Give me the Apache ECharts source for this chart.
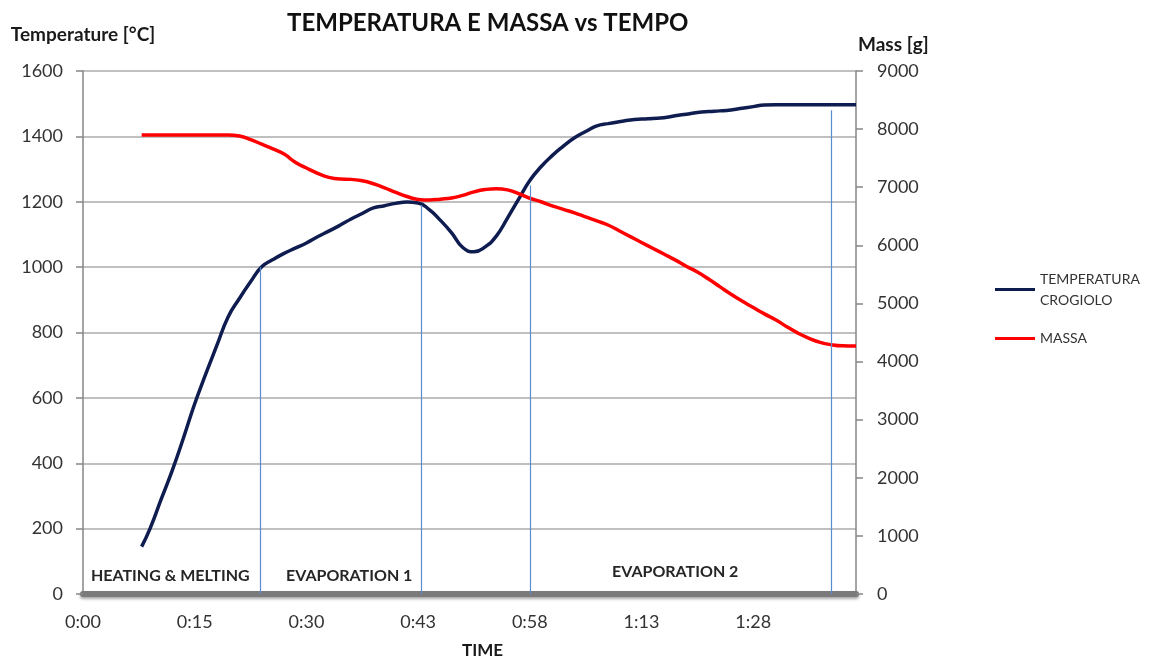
<!DOCTYPE html>
<html>
<head>
<meta charset="utf-8">
<script src="https://cdn.jsdelivr.net/npm/echarts@6/dist/echarts.min.js"></script>
<style>
  html, body { margin: 0; padding: 0; background: #fff; }
  #chart { width: 1161px; height: 662px; }
</style>
</head>
<body>
<div id="chart"></div>
<script>
// x is in sample steps, 10 steps between two time labels
const tickLabels = ['0:00', '0:15', '0:30', '0:43', '0:58', '1:13', '1:28']
const samples = [5.25, 6, 7, 8, 9, 10, 11, 12, 13, 14, 15, 16, 17, 18, 19, 20, 21, 22, 23, 24, 25,
  26, 27, 28, 29, 30, 31, 32, 33, 34, 35, 36, 37, 38, 39, 40, 41, 42, 43, 44, 45, 46, 47, 48,
  49, 50, 51, 52, 53, 54, 55, 56, 57, 58, 59, 60, 61, 62, 63, 64, 65, 66, 67, 68, 69, 69.2]
const temperature = [145, 200, 290, 379, 478, 582, 674, 762, 848, 904, 955, 1001, 1023, 1042, 1058,
  1074, 1093, 1110, 1128, 1147, 1164, 1181, 1188, 1195, 1199, 1196, 1176, 1143, 1105, 1060, 1047,
  1062, 1095, 1150, 1208, 1265, 1307, 1341, 1370, 1396, 1415, 1432, 1439, 1445, 1450, 1453, 1455,
  1457, 1463, 1468, 1473, 1476, 1478, 1481, 1486, 1491, 1496, 1497, 1497, 1497, 1497, 1497, 1497,
  1497, 1497, 1497]
const mass = [7900, 7900, 7900, 7900, 7900, 7900, 7900, 7900, 7900, 7880, 7820, 7740, 7660, 7570,
  7430, 7330, 7240, 7170, 7140, 7135, 7110, 7060, 6990, 6910, 6840, 6790, 6780, 6795, 6815, 6860,
  6920, 6960, 6975, 6955, 6890, 6810, 6750, 6680, 6620, 6560, 6490, 6420, 6350, 6250, 6150, 6050,
  5950, 5850, 5750, 5640, 5540, 5420, 5290, 5160, 5040, 4930, 4820, 4720, 4600, 4490, 4400, 4330,
  4290, 4270, 4266, 4266]
const phaseBounds = [15.85, 30.25, 40, 67]
const phaseTops = [1000, 1190, 1250, 1480]
const phaseNames = ['HEATING & MELTING', 'EVAPORATION 1', 'EVAPORATION 2']

const font = 'Lato, "Open Sans", sans-serif'
const chart = echarts.init(document.getElementById('chart'))

const plain = (v) => String(v)

chart.setOption({
  animation: false,
  textStyle: { fontFamily: font },
  title: {
    text: 'TEMPERATURA E MASSA vs TEMPO',
    left: 282,
    top: 6,
    textStyle: { fontSize: 24, fontWeight: 'bold', color: '#111', fontFamily: font },
  },
  grid: { left: 83, right: 305, top: 71, bottom: 68, containLabel: false, outerBoundsMode: 'none' },
  legend: {
    orient: 'vertical',
    left: 995,
    top: 258,
    padding: 0,
    itemGap: 7,
    itemWidth: 40,
    itemHeight: 3,
    icon: 'rect',
    formatter: (name) => name.replace(' ', '\n'),
    textStyle: { fontSize: 14, color: '#333', lineHeight: 21, fontFamily: font },
    data: [
      { name: 'TEMPERATURA CROGIOLO', textStyle: { padding: [21, 0, 0, 0] } },
      { name: 'MASSA' },
    ],
  },
  xAxis: {
    type: 'value',
    min: 0,
    max: 69.2,
    interval: 10,
    name: 'TIME',
    nameLocation: 'middle',
    nameGap: 48,
    nameMoveOverlap: false,
    nameTextStyle: { fontSize: 17, fontWeight: 'bold', color: '#1a1a1a', padding: [0, 0, 0, 26] },
    axisLine: {
      lineStyle: {
        color: '#7a7a7a',
        width: 6,
        shadowColor: 'rgba(0,0,0,0.35)',
        shadowBlur: 3,
        shadowOffsetY: 2,
      },
    },
    axisTick: { show: false },
    splitLine: { show: false },
    axisLabel: {
      margin: 19,
      fontSize: 18,
      color: '#333',
      showMaxLabel: false,
      formatter: (v) => tickLabels[Math.round(v / 10)] ?? '',
    },
  },
  yAxis: [
    {
      type: 'value',
      min: 0,
      max: 1600,
      interval: 200,
      name: 'Temperature [°C]',
      nameGap: 27,
      nameTextStyle: { fontSize: 19, fontWeight: 'bold', color: '#1a1a1a' },
      axisLine: { show: true, lineStyle: { color: '#868686', width: 1.5 } },
      axisTick: { show: true, length: 7, lineStyle: { color: '#868686', width: 1.5 } },
      axisLabel: { margin: 20, fontSize: 18, color: '#333', formatter: plain },
      splitLine: { show: true, lineStyle: { color: '#c0c0c0', width: 2 } },
    },
    {
      type: 'value',
      min: 0,
      max: 9000,
      interval: 1000,
      name: 'Mass [g]',
      nameGap: 17,
      nameTextStyle: { fontSize: 19, fontWeight: 'bold', color: '#1a1a1a', align: 'left', padding: [0, 0, 0, 2] },
      axisLine: { show: true, lineStyle: { color: '#868686', width: 1.5 } },
      axisTick: { show: true, length: 7, lineStyle: { color: '#868686', width: 1.5 } },
      axisLabel: { margin: 21, fontSize: 18, color: '#333', formatter: plain },
      splitLine: { show: false },
    },
  ],
  series: [
    {
      name: 'TEMPERATURA CROGIOLO',
      type: 'line',
      yAxisIndex: 0,
      smooth: true,
      showSymbol: false,
      color: '#0f1c50',
      lineStyle: { width: 3.5, color: '#0f1c50' },
      data: samples.map((x, i) => [x, temperature[i]]),
      markLine: {
        silent: true,
        symbol: 'none',
        label: { show: false },
        lineStyle: { color: '#5b8bd0', width: 1.2, type: 'solid' },
        data: phaseBounds.map((x, i) => [{ coord: [x, 0] }, { coord: [x, phaseTops[i]] }]),
      },
    },
    {
      name: 'MASSA',
      type: 'line',
      yAxisIndex: 1,
      smooth: true,
      showSymbol: false,
      color: '#ff0000',
      lineStyle: { width: 3.5, color: '#ff0000' },
      data: samples.map((x, i) => [x, mass[i]]),
    },
  ],
  graphic: [
    { type: 'text', left: 91, top: 568, style: { text: phaseNames[0], font: 'bold 16px ' + font, fill: '#262626' } },
    { type: 'text', left: 286, top: 568, style: { text: phaseNames[1], font: 'bold 16px ' + font, fill: '#262626' } },
    { type: 'text', left: 612, top: 564, style: { text: phaseNames[2], font: 'bold 16px ' + font, fill: '#262626' } },
  ],
})
</script>
</body>
</html>
